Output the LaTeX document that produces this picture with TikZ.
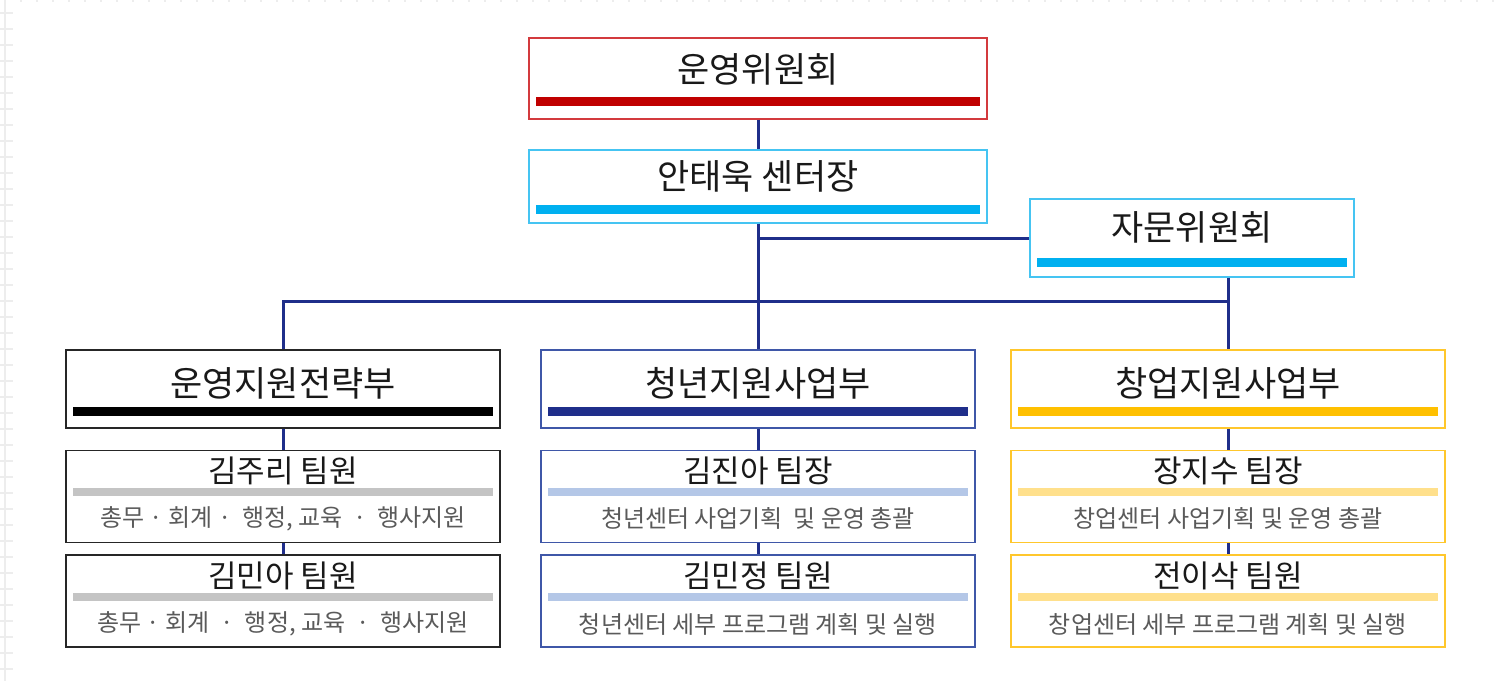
\documentclass[tikz,border=0pt]{standalone}
\usepackage{fontspec}
\setmainfont{Noto Sans CJK KR}
\usetikzlibrary{positioning}

\definecolor{unred}{HTML}{C00000}
\definecolor{unredline}{HTML}{D33A3D}
\definecolor{skyblue}{HTML}{00B0F0}
\definecolor{skyline}{HTML}{45C4F2}
\definecolor{navy}{HTML}{1F2E8A}
\definecolor{navyline}{HTML}{3F57A8}
\definecolor{gold}{HTML}{FFC000}
\definecolor{goldline}{HTML}{FFC72C}
\definecolor{palegray}{HTML}{C4C4C4}
\definecolor{paleblue}{HTML}{B4C7E7}
\definecolor{palegold}{HTML}{FFE08C}
\definecolor{desctext}{HTML}{5A5A5A}
\definecolor{gridgray}{HTML}{EDEDED}

\tikzset{
  box/.style={draw=#1, line width=1.4pt, fill=white, inner sep=0pt},
  headbar/.style 2 args={path picture={\fill[#1] ([xshift=7pt,yshift=#2]path picture bounding box.south west) rectangle ([xshift=-7pt,yshift=#2+9pt]path picture bounding box.south east);}},
  subbar/.style={path picture={\fill[#1] ([xshift=7pt,yshift=46pt]path picture bounding box.south west) rectangle ([xshift=-7pt,yshift=54pt]path picture bounding box.south east);}},
  headtext/.style={inner sep=0pt, text=black!90, font=\fontsize{35}{40}\selectfont},
  subtext/.style={inner sep=0pt, text=black!90, font=\fontsize{31}{36}\selectfont},
  desc/.style={inner sep=0pt, text=desctext, font=\fontsize{24}{28}\selectfont},
  link/.style={draw=navy, line width=3pt},
}

\begin{document}
\begin{tikzpicture}[x=1pt, y=1pt]
  \useasboundingbox[fill=white] (0,0) rectangle (1498,-681);
  % faint page edge
  \draw[gridgray, line width=1.8pt] (5,0) -- (5,-681);
  \foreach \yy in {13,29,...,681} \draw[gridgray, line width=1.5pt] (0,-\yy) -- (13,-\yy);
  \foreach \xx in {21,37,...,1497} \fill[gridgray] (\xx-1,0) rectangle (\xx+1,-2);

  % top
  \node[box=unredline, headbar={unred}{13pt}, minimum width=458pt, minimum height=81pt] (council) at (758,-78.5) {};
  \node[headtext] at ([yshift=-32pt]council.north) {운영위원회};
  \node[box=skyline, headbar={skyblue}{9pt}, minimum width=458pt, minimum height=73pt] (ceo) at (758,-186.5) {};
  \node[headtext] at ([yshift=-27.5pt]ceo.north) {안태욱 센터장};
  \node[box=skyline, headbar={skyblue}{10pt}, minimum width=324pt, minimum height=78pt] (adv) at (1192,-238) {};
  \node[headtext] at ([yshift=-29pt]adv.north) {자문위원회};

  % departments
  \node[box=black!85, headbar={black}{12pt}, minimum width=434pt, minimum height=78pt] (ldept) at (283,-389) {};
  \node[headtext] at ([yshift=-34pt]ldept.north) {운영지원전략부};
  \node[box=navyline, headbar={navy}{12pt}, minimum width=434pt, minimum height=78pt] (mdept) at (758,-389) {};
  \node[headtext] at ([yshift=-34pt]mdept.north) {청년지원사업부};
  \node[box=goldline, headbar={gold}{12pt}, minimum width=434pt, minimum height=78pt] (rdept) at (1228,-389) {};
  \node[headtext] at ([yshift=-34pt]rdept.north) {창업지원사업부};

  % teams
  \node[box=black!85, subbar=palegray, minimum width=434pt, minimum height=92pt, below=21pt of ldept] (lsub1) {};
  \node[subtext] at ([yshift=-21pt]lsub1.north) {김주리 팀원};
  \node[desc] at ([yshift=-69pt]lsub1.north) {총무 · 회계 ·~ 행정, 교육~ ·~ 행사지원};
  \node[box=black!85, subbar=palegray, minimum width=434pt, minimum height=92pt, below=11pt of lsub1] (lsub2) {};
  \node[subtext] at ([yshift=-22pt]lsub2.north) {김민아 팀원};
  \node[desc] at ([yshift=-70pt]lsub2.north) {총무 · 회계~ ·~ 행정, 교육~ ·~ 행사지원};

  \node[box=navyline, subbar=paleblue, minimum width=434pt, minimum height=92pt, below=21pt of mdept] (msub1) {};
  \node[subtext] at ([yshift=-21pt]msub1.north) {김진아 팀장};
  \node[desc] at ([yshift=-69pt]msub1.north) {청년센터 사업기획~ 및 운영 총괄};
  \node[box=navyline, subbar=paleblue, minimum width=434pt, minimum height=92pt, below=11pt of msub1] (msub2) {};
  \node[subtext] at ([yshift=-22pt]msub2.north) {김민정 팀원};
  \node[desc] at ([yshift=-70pt]msub2.north) {청년센터 세부 프로그램 계획 및 실행};

  \node[box=goldline, subbar=palegold, minimum width=434pt, minimum height=92pt, below=21pt of rdept] (rsub1) {};
  \node[subtext] at ([yshift=-21pt]rsub1.north) {장지수 팀장};
  \node[desc] at ([yshift=-69pt]rsub1.north) {창업센터 사업기획 및 운영 총괄};
  \node[box=goldline, subbar=palegold, minimum width=434pt, minimum height=92pt, below=11pt of rsub1] (rsub2) {};
  \node[subtext] at ([yshift=-22pt]rsub2.north) {전이삭 팀원};
  \node[desc] at ([yshift=-70pt]rsub2.north) {창업센터 세부 프로그램 계획 및 실행};

  % connectors
  \coordinate (bus) at (0,-301);
  \draw[link] (council) -- (ceo);
  \draw[link] (ceo) -- (mdept);
  \draw[link] (ceo.south |- adv.west) -- (adv.west);
  \draw[link] (ldept.north) |- (bus -| rdept.north);
  \draw[link] (adv.south -| rdept.north) -- (rdept.north);
  \draw[link] (ldept) -- (lsub1) -- (lsub2);
  \draw[link] (mdept) -- (msub1) -- (msub2);
  \draw[link] (rdept) -- (rsub1) -- (rsub2);
\end{tikzpicture}
\end{document}
